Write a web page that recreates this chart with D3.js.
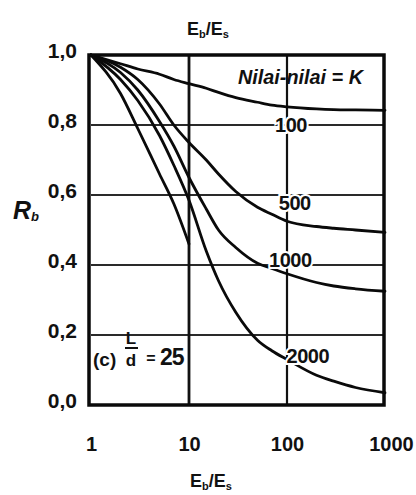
<!DOCTYPE html>
<html>
<head>
<meta charset="utf-8">
<script src="https://cdn.jsdelivr.net/npm/d3@7"></script>
<style>
  html, body { margin: 0; padding: 0; background: #fff; }
  svg { display: block; }
  text { font-family: "Liberation Sans", Arial, Helvetica, sans-serif; fill: #111; }
</style>
</head>
<body>
<svg id="chart" width="416" height="495"></svg>
<script>
// ---- data ----
const xTicks = [1, 10, 100, 1000];
const yTicks = [0, 0.2, 0.4, 0.6, 0.8, 1.0];
const gridY = [0.2, 0.4, 0.6, 0.8];
const gridX = [10, 100];
const xSamples = [1, 2, 3, 5, 7, 10, 15, 20, 30, 50, 70, 100, 200, 300, 500, 1000];
const kLabels = ["100", "500", "1000", "2000"];
const rK100  = [1.0, 0.975, 0.96, 0.945, 0.93, 0.918, 0.905, 0.893, 0.878, 0.865, 0.857, 0.852, 0.846, 0.844, 0.843, 0.842];
const rK500  = [1.0, 0.965, 0.93, 0.86, 0.80, 0.75, 0.70, 0.66, 0.61, 0.565, 0.545, 0.525, 0.51, 0.505, 0.50, 0.493];
const rK1000 = [1.0, 0.95, 0.90, 0.81, 0.74, 0.65, 0.56, 0.50, 0.45, 0.405, 0.39, 0.375, 0.35, 0.34, 0.332, 0.325];
const rK2000 = [1.0, 0.93, 0.87, 0.77, 0.685, 0.585, 0.44, 0.355, 0.265, 0.185, 0.155, 0.13, 0.085, 0.068, 0.05, 0.035];
// an extra, unlabeled curve visible in the scan (ends at Eb/Es = 10)
const xExtra = [1, 2, 3, 5, 7, 10];
const rExtra = [1.0, 0.89, 0.79, 0.66, 0.575, 0.46];
const annotation = "Nilai-nilai = K";
const caseLabel = "(c)";
const ratioValue = "25";

// ---- drawing ----
const svg = d3.select("#chart");
const pLeft = 91, pRight = 385, pTop = 55, pBottom = 405;
const x = d3.scaleLog().domain([1, 1000]).range([pLeft, pRight]);
const y = d3.scaleLinear().domain([0, 1]).range([pBottom, pTop]);

// gridlines
svg.append("g").selectAll("line").data(gridY).join("line")
  .attr("x1", pLeft).attr("x2", pRight)
  .attr("y1", d => y(d)).attr("y2", d => y(d))
  .attr("stroke", "#2a2a2a").attr("stroke-width", 2);
svg.append("g").selectAll("line").data(gridX).join("line")
  .attr("x1", d => x(d)).attr("x2", d => x(d))
  .attr("y1", pTop).attr("y2", pBottom)
  .attr("stroke", "#111").attr("stroke-width", (d, i) => i === 0 ? 2.8 : 2.2);

// curves
const series = [
  { name: kLabels[0], xs: xSamples, rs: rK100 },
  { name: kLabels[1], xs: xSamples, rs: rK500 },
  { name: kLabels[2], xs: xSamples, rs: rK1000 },
  { name: kLabels[3], xs: xSamples, rs: rK2000 },
  { name: "", xs: xExtra, rs: rExtra }
];
const line = d3.line().x(d => x(d[0])).y(d => y(d[1])).curve(d3.curveMonotoneX);
svg.append("g").selectAll("path").data(series).join("path")
  .attr("d", s => line(s.xs.map((v, i) => [v, s.rs[i]])))
  .attr("fill", "none").attr("stroke", "#0a0a0a").attr("stroke-width", 2.8)
  .attr("stroke-linecap", "round");

// frame
svg.append("rect")
  .attr("x", pLeft - 2).attr("y", pTop).attr("width", pRight - pLeft + 1).attr("height", pBottom - pTop)
  .attr("fill", "none").attr("stroke", "#0a0a0a").attr("stroke-width", 3.5);

// curve labels (positioned in data space)
const labelAt = [[110, 0.78], [120, 0.557], [108, 0.394], [163, 0.12]];
svg.append("g").selectAll("text").data(kLabels).join("text")
  .attr("x", (d, i) => x(labelAt[i][0])).attr("y", (d, i) => y(labelAt[i][1]))
  .attr("text-anchor", "middle").attr("font-size", 20).attr("font-weight", "bold")
  .attr("stroke", "#fff").attr("stroke-width", 4).attr("paint-order", "stroke")
  .attr("letter-spacing", -0.5)
  .text(d => d);

// axes
const yAxis = d3.axisLeft(y).tickValues(yTicks).tickSize(0).tickPadding(12)
  .tickFormat(d => d3.format(".1f")(d).replace(".", ","));
const gy = svg.append("g").attr("transform", `translate(${pLeft - 2},0)`).call(yAxis);
gy.select(".domain").remove();
gy.selectAll("text").attr("font-size", 21).attr("font-weight", "bold")
  .attr("font-family", "'Liberation Sans', Arial, sans-serif").attr("fill", "#111")
  .attr("dy", "0.1em");

const xAxis = d3.axisBottom(x).tickValues(xTicks).tickSize(0).tickPadding(32)
  .tickFormat(d3.format("d"));
const gx = svg.append("g").attr("transform", `translate(0,${pBottom})`).call(xAxis);
gx.select(".domain").remove();
gx.selectAll("text").attr("font-size", 20).attr("font-weight", "bold")
  .attr("font-family", "'Liberation Sans', Arial, sans-serif").attr("fill", "#111")
  .attr("dx", d => d === 1000 ? 6 : 0);

// axis titles E_b / E_s (top and bottom)
function ratioTitle(cx, by) {
  const t = svg.append("text").attr("x", cx).attr("y", by).attr("text-anchor", "middle")
    .attr("font-size", 18).attr("font-weight", "bold");
  t.append("tspan").text("E");
  t.append("tspan").attr("font-size", 11).attr("dy", 3).text("b");
  t.append("tspan").attr("dy", -3).text("/E");
  t.append("tspan").attr("font-size", 11).attr("dy", 3).text("s");
}
ratioTitle(208, 35);
ratioTitle(211, 487);

// R_b
const rb = svg.append("text").attr("x", 13).attr("y", 219)
  .attr("font-size", 25).attr("font-weight", "bold").attr("font-style", "italic");
rb.append("tspan").text("R");
rb.append("tspan").attr("font-size", 13).attr("dy", 2).text("b");

// legend annotation
svg.append("text").attr("x", 238).attr("y", 84)
  .attr("font-size", 21).attr("font-style", "italic").attr("font-weight", "bold")
  .attr("textLength", 125).attr("lengthAdjust", "spacingAndGlyphs")
  .text(annotation);

// (c) L/d = 25
svg.append("text").attr("x", 93).attr("y", 366).attr("font-size", 19).attr("font-weight", "bold").text(caseLabel);
svg.append("text").attr("x", 131).attr("y", 344).attr("text-anchor", "middle").attr("font-size", 17).attr("font-weight", "bold").text("L");
svg.append("line").attr("x1", 125).attr("x2", 138).attr("y1", 348).attr("y2", 348).attr("stroke", "#111").attr("stroke-width", 2);
svg.append("text").attr("x", 131).attr("y", 366).attr("text-anchor", "middle").attr("font-size", 17).attr("font-weight", "bold").text("d");
svg.append("text").attr("x", 151).attr("y", 364).attr("text-anchor", "middle").attr("font-size", 16).attr("font-weight", "bold").text("=");
svg.append("text").attr("x", 160).attr("y", 365).attr("font-size", 23).attr("font-weight", "bold").attr("letter-spacing", -1).text(ratioValue);
</script>
</body>
</html>
